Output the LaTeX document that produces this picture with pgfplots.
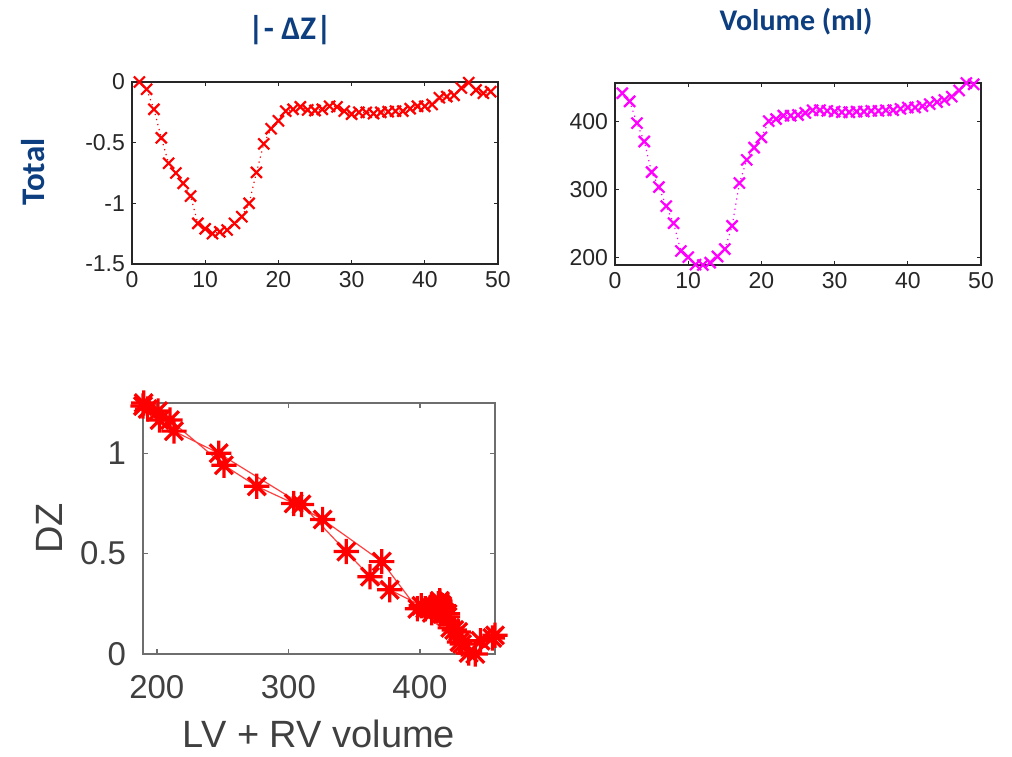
\documentclass[border=0pt]{standalone}
\usepackage{fontspec}
\setmainfont{Liberation Sans}
\newfontfamily\calib{Carlito}
\usepackage{pgfplots}
\pgfplotsset{compat=1.18}
\usepackage{pgfplotstable}

\definecolor{ttlblue}{RGB}{12,62,128}
\definecolor{axdark}{RGB}{38,38,38}
\definecolor{axgray}{RGB}{110,110,110}
\definecolor{lblgray}{RGB}{64,64,64}
\definecolor{mred}{RGB}{255,0,0}
\definecolor{mmag}{RGB}{255,0,255}

% MATLAB style '*' marker (plus and cross)
\pgfdeclareplotmark{matstar}{%
  \pgfpathmoveto{\pgfqpoint{-\pgfplotmarksize}{0pt}}%
  \pgfpathlineto{\pgfqpoint{\pgfplotmarksize}{0pt}}%
  \pgfpathmoveto{\pgfqpoint{0pt}{-\pgfplotmarksize}}%
  \pgfpathlineto{\pgfqpoint{0pt}{\pgfplotmarksize}}%
  \pgfpathmoveto{\pgfqpoint{-.707\pgfplotmarksize}{-.707\pgfplotmarksize}}%
  \pgfpathlineto{\pgfqpoint{.707\pgfplotmarksize}{.707\pgfplotmarksize}}%
  \pgfpathmoveto{\pgfqpoint{-.707\pgfplotmarksize}{.707\pgfplotmarksize}}%
  \pgfpathlineto{\pgfqpoint{.707\pgfplotmarksize}{-.707\pgfplotmarksize}}%
  \pgfusepathqstroke}

% index, -dZ (total)
\pgfplotstableread{
i dz
1 0
2 -0.06
3 -0.225
4 -0.46
5 -0.67
6 -0.75
7 -0.835
8 -0.94
9 -1.165
10 -1.21
11 -1.25
12 -1.235
13 -1.22
14 -1.165
15 -1.11
16 -1.0
17 -0.745
18 -0.51
19 -0.385
20 -0.32
21 -0.24
22 -0.225
23 -0.205
24 -0.23
25 -0.235
26 -0.225
27 -0.2
28 -0.205
29 -0.24
30 -0.265
31 -0.25
32 -0.25
33 -0.26
34 -0.25
35 -0.245
36 -0.24
37 -0.24
38 -0.22
39 -0.2
40 -0.2
41 -0.185
42 -0.13
43 -0.12
44 -0.11
45 -0.05
46 -0.005
47 -0.066
48 -0.093
49 -0.08
}\dztable

% index, volume (ml)
\pgfplotstableread{
i vol
1 442
2 430
3 398
4 371
5 326
6 304
7 276
8 251
9 210
10 201
11 190
12 189.5
13 193
14 202
15 213
16 247
17 310
18 344
19 362
20 377
21 401
22 404
23 409
24 409
25 410
26 413
27 417
28 417
29 416
30 415
31 414
32 414
33 415
34 415
35 416
36 416
37 417
38 417
39 419
40 421
41 421
42 423
43 426
44 429
45 432
46 437
47 446
48 457
49 455
}\voltable

% volume, DZ
\pgfplotstableread{
vol dz
442 0
430 0.06
398 0.225
371 0.46
326 0.67
304 0.75
276 0.835
251 0.94
210 1.165
201 1.21
190 1.25
189.5 1.235
193 1.22
202 1.165
213 1.11
247 1.0
310 0.745
344 0.51
362 0.385
377 0.32
401 0.24
404 0.225
409 0.205
409 0.23
410 0.235
413 0.225
417 0.2
417 0.205
416 0.24
415 0.265
414 0.25
414 0.25
415 0.26
415 0.25
416 0.245
416 0.24
417 0.24
417 0.22
419 0.2
421 0.2
421 0.185
423 0.13
426 0.12
429 0.11
432 0.05
437 0.005
446 0.066
457 0.093
455 0.08
}\loopdata

\pgfplotsset{
  topax/.style={
    scale only axis, width=183pt, height=91pt,
    anchor=south west, clip=false,
    /pgf/number format/assume math mode=true,
    axis line style={axdark, line width=0.7pt},
    tick style={axdark, line width=0.6pt},
    major tick length=2.2pt,
    tick label style={font=\fontsize{11.5}{13}\selectfont, text=axdark},
    xmin=0, xmax=50, xtick={0,10,20,30,40,50},
  },
}

\begin{document}
\begin{tikzpicture}
\useasboundingbox (0,0) rectangle (506pt,378pt);

\node[font=\calib\bfseries\fontsize{16.5}{18}\selectfont, text=ttlblue] at (145pt,363pt) {|- ΔZ|};
\node[font=\calib\bfseries\fontsize{15}{17}\selectfont, text=ttlblue] at (398pt,367pt) {Volume (ml)};
\node[font=\calib\bfseries\fontsize{16.5}{18}\selectfont, text=ttlblue, rotate=90] at (16.5pt,292pt) {Total};

\begin{axis}[topax, at={(66pt,246pt)},
    ymin=-1.5, ymax=0, ytick={-1.5,-1,-0.5,0}]
  \addplot[mred, dotted, line width=0.6pt, mark=x, mark size=3.9pt,
    mark options={solid, line width=1.1pt}] table[x=i, y=dz] {\dztable};
\end{axis}

\begin{axis}[topax, at={(307.5pt,245.5pt)},
    ymin=189.5, ymax=457, ytick={200,300,400}]
  \addplot[mmag, dotted, line width=0.6pt, mark=x, mark size=3.9pt,
    mark options={solid, line width=1.1pt}] table[x=i, y=vol] {\voltable};
\end{axis}

\begin{axis}[scale only axis, width=176pt, height=125.5pt,
    at={(71.5pt,51pt)}, anchor=south west, clip=false,
    /pgf/number format/assume math mode=true,
    xmin=189.5, xmax=457, ymin=0, ymax=1.25,
    xtick={200,300,400}, ytick={0,0.5,1},
    axis line style={axgray, line width=0.9pt},
    tick style={axgray, line width=0.7pt},
    major tick length=2.5pt,
    tick label style={font=\fontsize{16.5}{18}\selectfont, text=lblgray},
    xticklabel style={yshift=-7pt},
    yticklabel style={xshift=-5pt},
    label style={font=\fontsize{19}{21}\selectfont, text=lblgray},
    xlabel={LV + RV volume}, ylabel={DZ},
    xlabel style={yshift=-4pt}, ylabel style={yshift=2pt}]
  \addplot[mred!75, line width=0.6pt, mark=matstar, mark size=6.3pt,
    mark options={mred, line width=1.6pt}] table[x=vol, y=dz] {\loopdata};
\end{axis}
\end{tikzpicture}
\end{document}
